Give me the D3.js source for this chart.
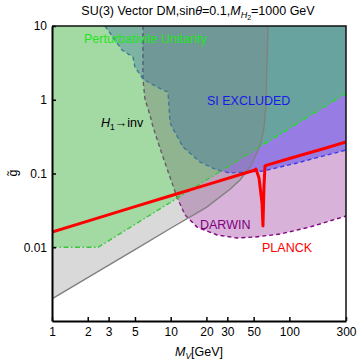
<!DOCTYPE html>
<html><head><meta charset="utf-8">
<script src="https://cdn.jsdelivr.net/npm/d3@7/dist/d3.min.js"></script>
<style>
body{margin:0;background:#fff;}
svg{display:block;font-family:"Liberation Sans",Arial,sans-serif;}
</style></head>
<body><svg id="c" width="357" height="361"></svg>
<script>
// ---- data ----
const xTicks = [1, 2, 3, 5, 10, 20, 30, 50, 100, 300];
const yTicks = [0.01, 0.1, 1, 10];

// PLANCK relic line
const planckM = [1, 2, 5, 10, 20, 40, 50, 52.3, 55.5, 58.8, 59.9, 61.1, 62.3, 64.8, 100, 200, 300];
const planckG = [0.0161, 0.0226, 0.0355, 0.0499, 0.070, 0.0984, 0.110, 0.115, 0.0869, 0.0398, 0.0194, 0.0656, 0.1265, 0.130, 0.160, 0.220, 0.267];

// H1 -> inv excluded boundary
const h1invM = [1, 2, 5, 10, 20, 31.6, 38.4, 46.6, 52.3, 56.6, 58.8, 61.1, 63.5, 64.8, 66.1];
const h1invG = [0.0020, 0.00388, 0.0093, 0.0181, 0.0348, 0.0610, 0.0816, 0.1225, 0.178, 0.243, 0.303, 0.414, 0.80, 3.46, 10];

// Perturbative unitarity boundary
const unitM = [1, 2.45, 5, 10, 20, 50, 100, 200, 300];
const unitG = [0.01, 0.01, 0.0204, 0.0408, 0.0816, 0.204, 0.408, 0.816, 1.22];

// SI excluded boundary
const siM = [2.80, 3.89, 4.81, 5.00, 5.84, 7.67, 9.49, 9.87, 10.26, 12.7, 17.7, 24.5, 31.6, 60.0, 116, 300];
const siG = [10, 4.73, 3.80, 2.78, 1.91, 1.49, 1.27, 0.499, 0.427, 0.229, 0.143, 0.1116, 0.1016, 0.108, 0.139, 0.208];

// DARWIN projected boundary
const darwinM = [5.84, 5.84, 6.07, 6.69, 7.10, 8.61, 11.3, 13.2, 16.7, 24.6, 36.2, 51.3, 83.4, 149, 300];
const darwinG = [10, 1.91, 1.02, 0.621, 0.427, 0.1674, 0.048, 0.0274, 0.0188, 0.01466, 0.01335, 0.01377, 0.0151, 0.0188, 0.0265];

// ---- chart ----
const svg = d3.select("#c");
const x = d3.scaleLog().domain([1, 300]).range([52, 346]);
const y = d3.scaleLog().domain([0.001, 10]).range([321, 26]);

svg.append("clipPath").attr("id", "clip").append("rect")
  .attr("x", 52).attr("y", 26).attr("width", 294).attr("height", 295);

const g = svg.append("g").attr("clip-path", "url(#clip)");
const line = d3.line().x(d => x(d[0])).y(d => y(d[1]));
const zip = (a, b) => a.map((v, i) => [v, b[i]]);

function region(M, G, closing, fill, stroke, dash, sw) {
  const pts = zip(M, G);
  g.append("path").attr("d", line(pts.concat(closing)) + "Z")
    .attr("fill", fill).attr("stroke", "none");
  g.append("path").attr("d", line(pts)).attr("fill", "none")
    .attr("stroke", stroke).attr("stroke-width", sw)
    .attr("stroke-dasharray", dash);
}

region(darwinM, darwinG, [[300, 10]], "rgba(128,0,128,0.3)", "#800080", "4,3", 1.4);
region(siM, siG, [[300, 10]], "rgba(0,0,255,0.3)", "#3a3ae6", "4,3", 1.4);
region(unitM, unitG, [[300, 10], [1, 10]], "rgba(0,255,0,0.3)", "#1ee61e", "5,2.5,1.5,2.5", 1.4);
region(h1invM, h1invG, [[1, 10]], "rgba(128,128,128,0.3)", "#808080", null, 1.4);

g.append("path").attr("d", line(zip(planckM, planckG))).attr("fill", "none")
  .attr("stroke", "#ff0000").attr("stroke-width", 3).attr("stroke-linejoin", "round");

// axes
const xAxis = svg.append("g").attr("transform", "translate(0,321)")
  .call(d3.axisBottom(x).tickValues(xTicks).tickFormat(d3.format("d")).tickSizeInner(-4).tickSizeOuter(0).tickPadding(6));
const yAxis = svg.append("g").attr("transform", "translate(52,0)")
  .call(d3.axisLeft(y).tickValues(yTicks).tickFormat(d => String(d)).tickSizeInner(-4).tickSizeOuter(0).tickPadding(5));
[xAxis, yAxis].forEach(a => {
  a.selectAll("text").attr("font-size", 12).attr("fill", "#000").attr("font-family", '"Liberation Sans",Arial,sans-serif');
  a.selectAll("line").attr("stroke", "#000").attr("stroke-width", 1.5);
  a.select(".domain").attr("stroke", "#000").attr("stroke-width", 2);
});
// top & right frame
svg.append("path").attr("d", "M52,26H346V321").attr("fill", "none").attr("stroke", "#111").attr("stroke-width", 1.5);

// labels
const t = svg.append("text").attr("x", 198).attr("y", 15).attr("text-anchor", "middle").attr("font-size", 12.5);
t.append("tspan").text("SU(3) Vector DM,sin");
t.append("tspan").attr("font-style", "italic").text("θ");
t.append("tspan").text("=0.1,");
t.append("tspan").attr("font-style", "italic").text("M");
t.append("tspan").attr("font-style", "italic").attr("font-size", 9).attr("dy", 3).text("H");
t.append("tspan").attr("font-size", 7).attr("dy", 2).text("2");
t.append("tspan").attr("dy", -5).text("=1000 GeV");

svg.append("text").attr("x", 84).attr("y", 43).attr("font-size", 12.5).attr("fill", "#1ee61e").text("Perturbativite Unitarity");
svg.append("text").attr("x", 207).attr("y", 105).attr("font-size", 12.5).attr("fill", "#1a1ae6").text("SI EXCLUDED");
const h = svg.append("text").attr("x", 101).attr("y", 127).attr("font-size", 12.5).attr("fill", "#000");
h.append("tspan").attr("font-style", "italic").text("H");
h.append("tspan").attr("font-size", 8.5).attr("dy", 3).text("1");
h.append("tspan").attr("dy", -3).text("→inv");
svg.append("text").attr("x", 200).attr("y", 229).attr("font-size", 12.5).attr("fill", "#800080").text("DARWIN");
svg.append("text").attr("x", 262).attr("y", 252).attr("font-size", 12.5).attr("fill", "#ff0000").text("PLANCK");

const xl = svg.append("text").attr("x", 199).attr("y", 356).attr("text-anchor", "middle").attr("font-size", 12.5);
xl.append("tspan").attr("font-style", "italic").text("M");
xl.append("tspan").attr("font-style", "italic").attr("font-size", 8.5).attr("dy", 3).text("V");
xl.append("tspan").attr("dy", -3).text("[GeV]");

svg.append("text").attr("transform", "translate(17,173) rotate(-90)").attr("text-anchor", "middle")
  .attr("font-size", 12.5).text("g\u0303");
</script></body></html>
